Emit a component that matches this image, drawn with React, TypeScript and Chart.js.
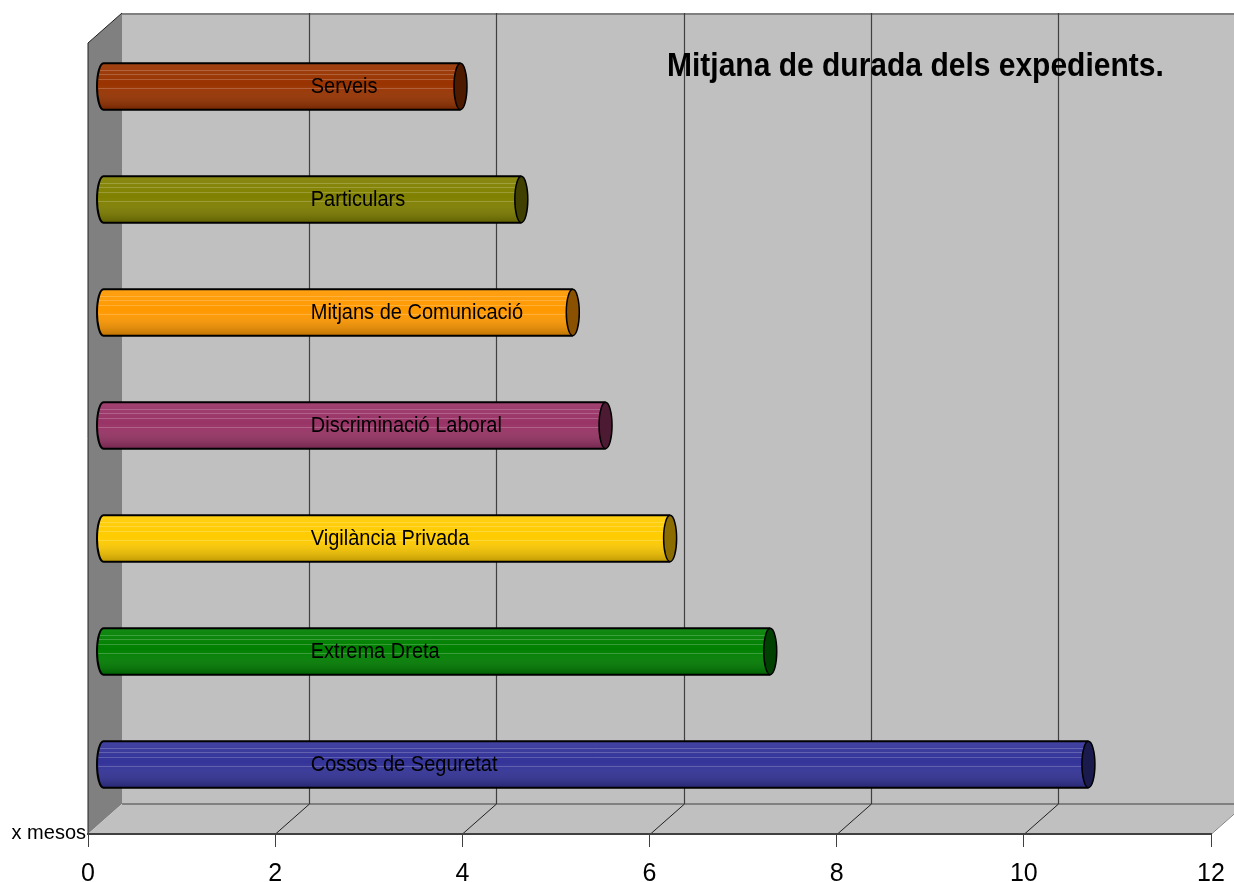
import React, { useEffect, useRef } from "react";
import { Chart, registerables } from "chart.js";

Chart.register(...registerables);

// ---- data ----
const categories = [
  "Serveis",
  "Particulars",
  "Mitjans de Comunicació",
  "Discriminació Laboral",
  "Vigilància Privada",
  "Extrema Dreta",
  "Cossos de Seguretat",
];
const durations = [3.82, 4.47, 5.02, 5.37, 6.06, 7.13, 10.53];
const barColors = ["#993300", "#808000", "#ff9900", "#993366", "#ffcc00", "#008000", "#333399"];
const capColors = ["#4d1a00", "#404000", "#8a5200", "#4d1a33", "#8a6c00", "#004000", "#1a1a4d"];
const xMin = 0;
const xMax = 12;
const xStep = 2;
const titleText = "Mitjana de durada dels expedients.";
const unitText = "x mesos";

// ---- 3D geometry (styles) ----
const WALL_DX = 34;
const WALL_DY = -30;
const BAR_DX = 15;
const BAR_DY = -13;
const LABEL_AT = 2.22;
const FONT = 'Arial, "Liberation Sans", sans-serif';

const wallsPlugin = {
  id: "walls",
  beforeDraw(chart: any) {
    const { ctx, chartArea } = chart;
    const xs = chart.scales.x;
    const L = chartArea.left;
    const R = chartArea.right;
    const T = chartArea.top;
    const B = chartArea.bottom;
    ctx.save();
    // back wall
    ctx.fillStyle = "#c0c0c0";
    ctx.fillRect(L + WALL_DX, T + WALL_DY, R - L, B - T);
    // left wall
    ctx.fillStyle = "#808080";
    ctx.beginPath();
    ctx.moveTo(L, T);
    ctx.lineTo(L + WALL_DX, T + WALL_DY);
    ctx.lineTo(L + WALL_DX, B + WALL_DY);
    ctx.lineTo(L, B);
    ctx.closePath();
    ctx.fill();
    // floor
    ctx.fillStyle = "#c0c0c0";
    ctx.beginPath();
    ctx.moveTo(L, B);
    ctx.lineTo(L + WALL_DX, B + WALL_DY);
    ctx.lineTo(R + WALL_DX, B + WALL_DY);
    ctx.lineTo(R, B);
    ctx.closePath();
    ctx.fill();
    // back wall top border
    ctx.strokeStyle = "#808080";
    ctx.lineWidth = 2;
    ctx.beginPath();
    ctx.moveTo(L + WALL_DX, T + WALL_DY + 1);
    ctx.lineTo(R + WALL_DX, T + WALL_DY + 1);
    ctx.stroke();
    // back floor edge
    ctx.beginPath();
    ctx.moveTo(L + WALL_DX, B + WALL_DY);
    ctx.lineTo(R + WALL_DX, B + WALL_DY);
    ctx.stroke();
    // gridlines on back wall + floor diagonals
    for (let v = xMin + xStep; v <= xMax; v += xStep) {
      const px = Math.round(xs.getPixelForValue(v)) + 0.5;
      ctx.lineWidth = 1.2;
      ctx.strokeStyle = "#404040";
      if (v < xMax) {
        ctx.beginPath();
        ctx.moveTo(px + WALL_DX, T + WALL_DY);
        ctx.lineTo(px + WALL_DX, B + WALL_DY);
        ctx.stroke();
      }
      ctx.lineWidth = 1;
      ctx.strokeStyle = v === xMax ? "#808080" : "#202020";
      ctx.beginPath();
      ctx.moveTo(px, B);
      ctx.lineTo(px + WALL_DX, B + WALL_DY);
      ctx.stroke();
    }
    // left wall outline
    ctx.strokeStyle = "#202020";
    ctx.lineWidth = 1;
    ctx.beginPath();
    ctx.moveTo(L + WALL_DX, T + WALL_DY);
    ctx.lineTo(L, T);
    ctx.lineTo(L, B);
    ctx.stroke();
    // unit text
    ctx.fillStyle = "#000";
    ctx.font = `20px ${FONT}`;
    ctx.textAlign = "right";
    ctx.textBaseline = "alphabetic";
    ctx.fillText(unitText, L - 2, B + 5);
    ctx.restore();
  },
  beforeDatasetsDraw(chart: any) {
    chart.ctx.save();
    chart.ctx.translate(BAR_DX, BAR_DY);
  },
  afterDatasetsDraw(chart: any) {
    const { ctx } = chart;
    const xs = chart.scales.x;
    const meta = chart.getDatasetMeta(0);
    meta.data.forEach((el: any, i: number) => {
      const { x, y, base, height } = el.getProps(["x", "y", "base", "height"], true);
      const x0 = base;
      const x1 = x;
      const h = height;
      const top = y - h / 2;
      const bot = y + h / 2;
      const rx = 6.5;
      const body = () => {
        ctx.beginPath();
        ctx.moveTo(x1, top);
        ctx.lineTo(x0, top);
        ctx.ellipse(x0, y, rx, h / 2, 0, -Math.PI / 2, Math.PI / 2, true);
        ctx.lineTo(x1, bot);
        ctx.closePath();
      };
      ctx.save();
      body();
      ctx.fillStyle = barColors[i];
      ctx.fill();
      const g = ctx.createLinearGradient(0, top, 0, bot);
      g.addColorStop(0, "rgba(255,255,255,0.08)");
      g.addColorStop(0.45, "rgba(255,255,255,0.0)");
      g.addColorStop(1, "rgba(0,0,0,0.25)");
      ctx.fillStyle = g;
      ctx.fill();
      ctx.clip();
      ctx.strokeStyle = "rgba(255,255,255,0.2)";
      ctx.lineWidth = 1;
      [0.14, 0.22, 0.34, 0.54].forEach((f) => {
        const yy = Math.round(top + h * f) + 0.5;
        ctx.beginPath();
        ctx.moveTo(x0 - rx, yy);
        ctx.lineTo(x1, yy);
        ctx.stroke();
      });
      ctx.restore();
      // outline
      ctx.save();
      ctx.strokeStyle = "#000";
      ctx.lineWidth = 2;
      ctx.beginPath();
      ctx.moveTo(x1, top);
      ctx.lineTo(x0, top);
      ctx.ellipse(x0, y, rx, h / 2, 0, -Math.PI / 2, Math.PI / 2, true);
      ctx.lineTo(x1, bot);
      ctx.stroke();
      // right cap
      ctx.beginPath();
      ctx.ellipse(x1, y, rx, h / 2, 0, 0, Math.PI * 2);
      ctx.fillStyle = capColors[i];
      ctx.fill();
      ctx.lineWidth = 1.5;
      ctx.stroke();
      // category label
      ctx.fillStyle = "#000";
      ctx.font = `20px ${FONT}`;
      ctx.textAlign = "left";
      ctx.textBaseline = "middle";
      ctx.translate(xs.getPixelForValue(LABEL_AT), y + 1);
      ctx.scale(1, 1.08);
      ctx.fillText(categories[i], 0, 0);
      ctx.restore();
    });
    ctx.restore();
  },
  afterDraw(chart: any) {
    const { ctx } = chart;
    ctx.save();
    ctx.fillStyle = "#000";
    ctx.font = `bold 30px ${FONT}`;
    ctx.textAlign = "left";
    ctx.textBaseline = "alphabetic";
    ctx.translate(667, 76);
    ctx.scale(1, 1.12);
    ctx.fillText(titleText, 0, 0);
    ctx.restore();
  },
};

export default function App() {
  const ref = useRef<HTMLCanvasElement | null>(null);
  useEffect(() => {
    if (!ref.current) return;
    const chart = new Chart(ref.current, {
      type: "bar",
      data: {
        labels: categories,
        datasets: [
          {
            label: "Mitjana",
            data: durations,
            backgroundColor: barColors,
            borderWidth: 0,
            categoryPercentage: 1,
            barPercentage: 0.41,
            clip: false,
          } as any,
        ],
      },
      options: {
        indexAxis: "y",
        animation: false,
        responsive: false,
        devicePixelRatio: 1,
        layout: { padding: { left: 88, right: 23, top: 43, bottom: 0 } },
        plugins: {
          legend: { display: false },
          title: { display: false },
          tooltip: { enabled: false },
        },
        scales: {
          x: {
            type: "linear",
            position: "bottom",
            min: xMin,
            max: xMax,
            ticks: {
              stepSize: xStep,
              color: "#000",
              padding: 15,
              font: { family: FONT, size: 25, lineHeight: 1 },
            },
            grid: {
              drawOnChartArea: false,
              drawTicks: true,
              tickLength: 13,
              color: "#404040",
              lineWidth: 1,
            },
            border: { display: true, color: "#404040", width: 2 },
            afterFit: (s: any) => {
              s.height = 48;
              s.paddingLeft = 0;
              s.paddingRight = 0;
            },
          },
          y: {
            type: "category",
            display: false,
          },
        },
      } as any,
      plugins: [wallsPlugin],
    });
    return () => chart.destroy();
  }, []);
  return (
    <div style={{ position: "fixed", left: 0, top: 0, width: 1234, height: 882, background: "#fff" }}>
      <canvas ref={ref} width={1234} height={882} style={{ display: "block" }} />
    </div>
  );
}
